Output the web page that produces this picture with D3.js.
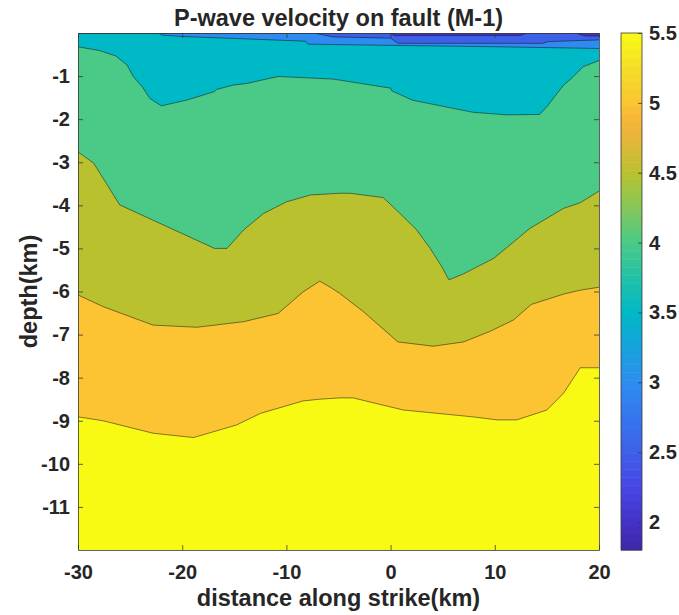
<!DOCTYPE html>
<html>
<head>
<meta charset="utf-8">
<script src="https://cdn.jsdelivr.net/npm/d3@7"></script>
<style>
  body { margin: 0; background: #fff; }
  text { font-family: "Liberation Sans", Arial, Helvetica, sans-serif; font-weight: bold; fill: #262626; }
  .axis path, .axis line { stroke: #3a3a3a; stroke-width: 0.8; }
</style>
</head>
<body>
<div class="chart"></div>
<script>
/* contour edges, [distance km, depth km] */
const edge20 = [[-30,0],[-0.2,0],[0.4,-0.06],[12.4,-0.06],[13.1,0],[17.7,0],[18.7,-0.07],[20,-0.07]];
const edge25 = [[-30,0],[-7.4,0],[-5.5,-0.09],[0,-0.12],[0.7,-0.24],[14.6,-0.24],[15.1,-0.2],[20,-0.16]];
const edge30 = [[-30,0],[-22.3,0],[-21.9,-0.05],[-20,-0.08],[-13.5,-0.14],[-8.2,-0.19],[-7.9,-0.26],
  [-4.9,-0.27],[0.9,-0.29],[10.5,-0.32],[20,-0.36]];
const edge35 = [[-30,-0.32],[-27.9,-0.41],[-26.4,-0.53],[-25.3,-0.74],[-24.7,-1.01],[-23.8,-1.26],
  [-23.1,-1.52],[-22,-1.69],[-19.6,-1.56],[-16.9,-1.36],[-16.7,-1.31],[-15.1,-1.21],[-13.8,-1.17],
  [-10.8,-1.01],[-5.5,-1.07],[0,-1.28],[0.1,-1.34],[2.1,-1.56],[5.4,-1.72],[7.9,-1.84],[11.1,-1.9],
  [14.3,-1.89],[15,-1.71],[16.6,-1.21],[17.2,-1.09],[18.5,-0.78],[20,-0.64]];
const edge40 = [[-30,-2.76],[-28.5,-3.02],[-26,-3.99],[-16.9,-5],[-15.7,-5],[-14.1,-4.57],[-12.2,-4.19],
  [-10,-3.92],[-7.7,-3.76],[-4.9,-3.72],[-3.9,-3.72],[-0.7,-3.82],[0.9,-4.19],[2.5,-4.57],[3.8,-5],
  [4.9,-5.42],[5.6,-5.73],[7,-5.59],[9.9,-5.23],[13.4,-4.53],[16.6,-4.07],[18.2,-3.94],[20,-3.67]];
const edge45 = [[-30,-6.08],[-27.6,-6.35],[-22.8,-6.78],[-18.6,-6.83],[-14.1,-6.7],[-10.8,-6.51],
  [-8.4,-6.01],[-6.8,-5.76],[-5.8,-5.9],[-4.9,-6.04],[-2.6,-6.47],[0.7,-7.17],[4.1,-7.27],[7,-7.17],
  [9.5,-6.93],[11.8,-6.66],[13.5,-6.3],[16.6,-6.06],[18.2,-5.97],[20,-5.9]];
const edge50 = [[-30,-8.91],[-27.6,-9],[-22.8,-9.29],[-18.9,-9.39],[-14.8,-9.1],[-12.5,-8.83],
  [-8.4,-8.54],[-6.8,-8.5],[-4.9,-8.47],[-3.6,-8.47],[1.2,-8.75],[7.9,-8.91],[10.2,-8.98],
  [12.1,-8.98],[14,-8.83],[15,-8.75],[16.6,-8.36],[18.2,-7.77],[20,-7.77]];

/* fill level of each band, top to bottom */
const levels = [2.0, 2.5, 3.0, 3.5, 4.0, 4.5, 5.0];
const edges = [edge20, edge25, edge30, edge35, edge40, edge45, edge50];

const xTicks = [-30, -20, -10, 0, 10, 20];
const yTicks = [-1, -2, -3, -4, -5, -6, -7, -8, -9, -10, -11];
const cbTicks = [2, 2.5, 3, 3.5, 4, 4.5, 5, 5.5];
const cRange = [1.8, 5.5];

/* layout */
const margin = ({top: 33, right: 80, bottom: 65, left: 78});
const width = 521;
const height = 517;

const svg = d3.select('.chart')
  .append('svg')
  .attr('width', 679)
  .attr('height', 615);

/* parula-like colormap */
const parula = d3.scaleLinear()
  .domain([1.8, 2.0, 2.25, 2.5, 3.0, 3.25, 3.5, 3.75, 4.0, 4.25, 4.5, 4.75, 4.9, 5.0, 5.25, 5.5])
  .range(['#3e26a8', '#4332c6', '#4746e6', '#3d60e8', '#2e8cf0', '#17a2dc', '#00b9c7', '#22c1a8',
          '#4aca86', '#86c75a', '#b9c22e', '#e6b43a', '#f8b83a', '#fcc432', '#f5de27', '#f9fa14'])
  .interpolate(d3.interpolateRgb);

/* plain hyphen for negatives, like the original */
const fmt = d => String(d);

const x = d3.scaleLinear().domain([-30, 20]).range([0, width]);
const y = d3.scaleLinear().domain([0, -12]).range([0, height]);

const plot = svg.append('g')
  .attr('transform', `translate(${margin.left},${margin.top})`);

plot.append('clipPath').attr('id', 'clip')
  .append('rect').attr('width', width).attr('height', height);

const body = plot.append('g').attr('clip-path', 'url(#clip)');

/* everything below the deepest edge */
body.append('rect')
  .attr('width', width)
  .attr('height', height)
  .attr('fill', parula(5.5));

const area = d3.area()
  .x(d => x(d[0]))
  .y0(y(0))
  .y1(d => y(d[1]));

const line = d3.line()
  .x(d => x(d[0]))
  .y(d => y(d[1]));

/* paint from deepest band up */
for (let i = edges.length - 1; i >= 0; i--) {
  body.append('path')
    .datum(edges[i])
    .attr('d', area)
    .attr('fill', parula(levels[i]));
}

body.selectAll('.cline')
  .data(edges)
  .join('path')
  .attr('class', 'cline')
  .attr('d', line)
  .attr('fill', 'none')
  .attr('stroke', 'rgba(20,20,20,0.65)')
  .attr('stroke-width', 0.8);

/* axes with inward ticks on all four sides */
plot.append('g')
  .attr('class', 'axis')
  .attr('transform', `translate(0,${height})`)
  .call(d3.axisBottom(x).tickValues(xTicks).tickSize(-5).tickPadding(15).tickSizeOuter(0).tickFormat(fmt))
  .call(g => g.selectAll('text').style('font-size', '20px'));

plot.append('g')
  .attr('class', 'axis')
  .call(d3.axisTop(x).tickValues(xTicks).tickSize(-5).tickFormat('').tickSizeOuter(0));

plot.append('g')
  .attr('class', 'axis')
  .call(d3.axisLeft(y).tickValues(yTicks).tickSize(-5).tickPadding(8).tickSizeOuter(0).tickFormat(fmt))
  .call(g => g.selectAll('text').style('font-size', '20px'));

plot.append('g')
  .attr('class', 'axis')
  .attr('transform', `translate(${width},0)`)
  .call(d3.axisRight(y).tickValues(yTicks).tickSize(-5).tickFormat('').tickSizeOuter(0));

/* title and axis labels */
svg.append('text')
  .attr('x', margin.left + width / 2)
  .attr('y', 26)
  .attr('text-anchor', 'middle')
  .style('font-size', '23.5px')
  .text('P-wave velocity on fault (M-1)');

svg.append('text')
  .attr('x', margin.left + width / 2)
  .attr('y', 606)
  .attr('text-anchor', 'middle')
  .style('font-size', '23.5px')
  .text('distance along strike(km)');

svg.append('text')
  .attr('transform', `translate(37,${margin.top + height / 2}) rotate(-90)`)
  .attr('text-anchor', 'middle')
  .style('font-size', '23.5px')
  .text('depth(km)');

/* colorbar */
const cb = svg.append('g')
  .attr('transform', `translate(621,${margin.top})`);
const cbWidth = 21;
const c = d3.scaleLinear().domain(cRange).range([height, 0]);
const steps = d3.range(64).map(i => cRange[0] + (cRange[1] - cRange[0]) * i / 64);
const stepH = (cRange[1] - cRange[0]) / 64;

cb.selectAll('rect')
  .data(steps)
  .join('rect')
  .attr('x', 0)
  .attr('width', cbWidth)
  .attr('y', d => c(d + stepH))
  .attr('height', d => c(d) - c(d + stepH) + 0.5)
  .attr('fill', d => parula(d + stepH / 2));

cb.append('rect')
  .attr('width', cbWidth)
  .attr('height', height)
  .attr('fill', 'none')
  .attr('stroke', '#3a3a3a')
  .attr('stroke-width', 0.8);

cb.append('g')
  .attr('class', 'axis')
  .attr('transform', `translate(${cbWidth},0)`)
  .call(d3.axisRight(c).tickValues(cbTicks).tickSize(-4).tickPadding(7).tickSizeOuter(0).tickFormat(fmt))
  .call(g => g.select('.domain').remove())
  .call(g => g.selectAll('text').style('font-size', '20px'));
</script>
</body>
</html>
